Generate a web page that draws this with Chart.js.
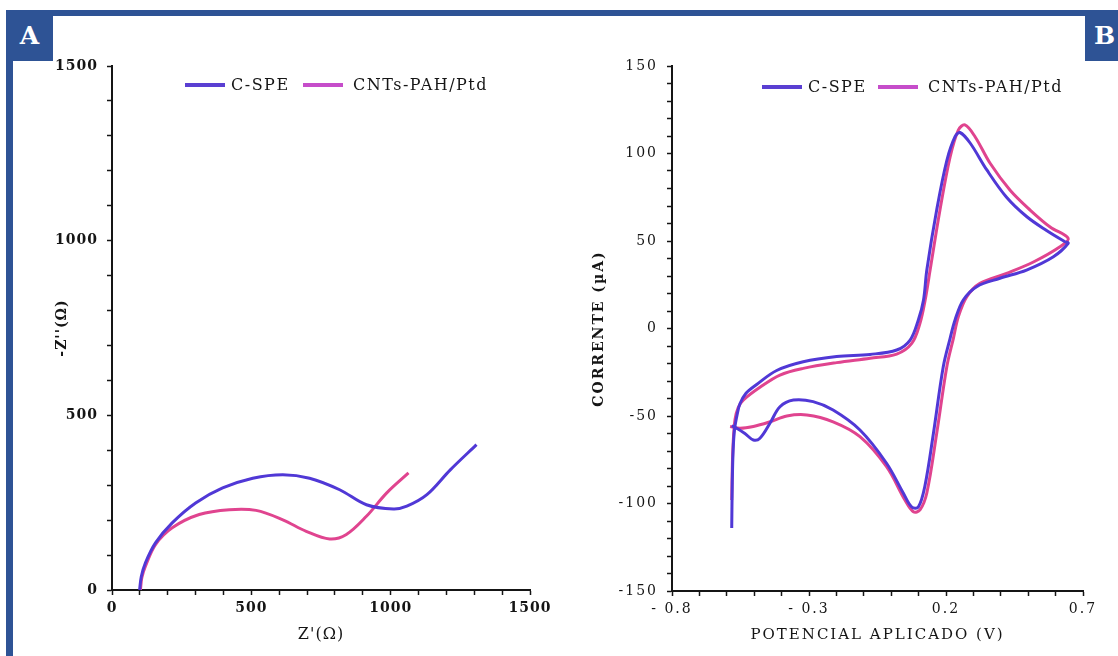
<!DOCTYPE html>
<html>
<head>
<meta charset="utf-8">
<script src="https://cdn.jsdelivr.net/npm/chart.js@4.4.0/dist/chart.umd.min.js"></script>
<style>
  body { margin: 0; background: #fff; width: 1118px; height: 656px; overflow: hidden; position: relative; font-family: "DejaVu Serif", serif; }
  .bar { position: absolute; background: #2e5395; }
  .tag { position: absolute; top: 10px; width: 47px; height: 51px; background: #2e5395; color: #fff; font: bold 25px "DejaVu Serif", serif; text-align: center; line-height: 51px; }
  canvas { position: absolute; top: 0; }
  .lg-line { position: absolute; height: 4px; }
  .lg-text { position: absolute; font-size: 16px; letter-spacing: 1.5px; color: #161616; line-height: 20px; white-space: nowrap; }
</style>
</head>
<body>
<div class="bar" style="left:6px; top:10px; width:1112px; height:6px;"></div>
<div class="bar" style="left:6px; top:10px; width:7px; height:646px;"></div>
<div class="tag" style="left:6px;">A</div>
<div class="tag" style="left:1085px; text-align:left; padding-left:9px;">B</div>

<canvas id="chartA" width="560" height="656" style="left:0;"></canvas>
<canvas id="chartB" width="558" height="656" style="left:560px;"></canvas>
<div id="legends"></div>

<script>
// series names
const seriesNames = ["C-SPE", "CNTs-PAH/Ptd"];

// A: Nyquist plot, Z' and -Z'' in ohm
const nyqReCSPE = [99, 105, 120, 156, 216, 300, 397, 505, 613, 709, 817, 913, 1010, 1058, 1130, 1214, 1308];
const nyqImCSPE = [0, 38, 78, 135, 192, 249, 292, 320, 330, 320, 287, 244, 232, 240, 273, 344, 416];
const nyqReCNT = [102, 107, 120, 156, 216, 313, 421, 517, 613, 697, 781, 841, 913, 986, 1064];
const nyqImCNT = [0, 35, 68, 130, 178, 216, 230, 228, 201, 168, 146, 159, 211, 278, 335];

// B: cyclic voltammetry, potential (V) and current (uA)
const cvPotCSPE = [-0.582, -0.580, -0.577, -0.572, -0.562, -0.552, -0.530, -0.491, -0.418, -0.321, -0.199, -0.077, 0.020, 0.069, 0.099, 0.118, 0.130, 0.166, 0.203, 0.233, 0.251, 0.288, 0.349, 0.421, 0.494, 0.567, 0.634, 0.646,
  0.592, 0.494, 0.397, 0.312, 0.263, 0.233, 0.215, 0.190, 0.154, 0.123, 0.099, 0.075, 0.044, -0.017, -0.114, -0.212, -0.285, -0.357, -0.406, -0.442, -0.479, -0.503, -0.534, -0.564, -0.582];
const cvCurCSPE = [-114, -88, -70, -58, -49, -43, -37, -32, -24, -19, -16, -14.8, -12.3, -6.6, 4.9, 16.3, 33.4, 67.7, 96, 109.6, 112, 106, 90.6, 75, 64, 56, 49.6, 48.7,
  41, 33.4, 28.7, 23.9, 16.3, 4.9, -5.6, -21.8, -60, -90, -102, -102, -94, -77, -58, -46.6, -41.8, -40.9, -44.7, -54, -62.7, -63.7, -60, -57, -55.7];
const cvPotCNT = [-0.582, -0.580, -0.577, -0.570, -0.558, -0.540, -0.479, -0.406, -0.321, -0.199, -0.077, 0.020, 0.075, 0.105, 0.124, 0.142, 0.178, 0.215, 0.245, 0.269, 0.306, 0.361, 0.434, 0.507, 0.580, 0.646,
  0.616, 0.519, 0.421, 0.324, 0.276, 0.245, 0.227, 0.203, 0.166, 0.130, 0.105, 0.081, 0.050, -0.017, -0.114, -0.212, -0.308, -0.381, -0.442, -0.503, -0.552, -0.588];
const cvCurCNT = [-98, -80, -66, -52, -45, -40.9, -33.6, -26.6, -22.8, -19.5, -17, -14.6, -8.5, 3, 16.3, 33.4, 67.7, 98, 113.4, 116.3, 109.6, 94.4, 79, 67.7, 58, 51.5,
  46.7, 38, 31.5, 25.8, 18.2, 6.7, -5.6, -21.8, -60, -94, -103.7, -104.7, -98, -79, -61.8, -53.3, -49.4, -50, -53.3, -56, -57, -56];

// tick labels
const xTicksA = ["0", "500", "1000", "1500"];
const yTicksA = ["0", "500", "1000", "1500"];
const xTicksB = ["- 0.8", "- 0.3", "0.2", "0.7"];
const yTicksB = ["-150", "-100", "-50", "0", "50", "100", "150"];

const lineColors = ["#5038d6", "#e0448f"];
const legendColors = ["#5a3fd2", "#c64dca"];
const ink = "#151515";
const serif = "'DejaVu Serif', serif";

const zip = (xs, ys) => xs.map((x, i) => ({ x: x, y: ys[i] }));

// canvas letter spacing, the picture's type is quite wide
const spacing = {
  id: "spacing",
  beforeUpdate(chart, args, opts) { chart.ctx.letterSpacing = opts.px + "px"; },
  beforeDraw(chart, args, opts) { chart.ctx.letterSpacing = opts.px + "px"; }
};

function makeDataset(i, xs, ys) {
  return {
    label: seriesNames[i], data: zip(xs, ys), showLine: true,
    borderColor: lineColors[i], backgroundColor: lineColors[i],
    borderWidth: 3, pointRadius: 0, tension: 0.35, fill: false
  };
}

function axis(opts) {
  return {
    type: "linear", min: opts.min, max: opts.max,
    afterFit: opts.fit,
    ticks: {
      stepSize: opts.step, autoSkip: false, maxRotation: 0, padding: opts.pad, color: ink,
      font: { family: serif, size: 14, weight: opts.bold ? "bold" : "normal" },
      callback: (v, i) => (i % 5 === 0 ? opts.labels[i / 5] : "")
    },
    grid: { display: true, drawOnChartArea: false, tickLength: 5, tickColor: ink, tickWidth: 1.5 },
    border: { display: true, color: ink, width: 2 },
    title: { display: true, text: opts.title, color: ink, padding: 0, font: { family: serif, size: opts.tsize, weight: opts.tbold ? "bold" : "normal" } }
  };
}

new Chart(document.getElementById("chartA"), {
  type: "scatter",
  data: { datasets: [makeDataset(0, nyqReCSPE, nyqImCSPE), makeDataset(1, nyqReCNT, nyqImCNT)] },
  options: {
    responsive: false, animation: false,
    layout: { padding: { left: 54, top: 66, right: 30, bottom: 12 } },
    plugins: { legend: { display: false }, tooltip: { enabled: false }, spacing: { px: 1 } },
    scales: {
      x: axis({ min: 0, max: 1500, step: 100, labels: xTicksA, pad: 5, bold: true, title: "Z'(Ω)", tsize: 16, fit: s => { s.height = 54; } }),
      y: axis({ min: 0, max: 1500, step: 100, labels: yTicksA, pad: 9, bold: true, title: "-Z''(Ω)", tsize: 14, tbold: true, fit: s => { s.width = 58; } })
    }
  },
  plugins: [spacing]
});

new Chart(document.getElementById("chartB"), {
  type: "scatter",
  data: { datasets: [makeDataset(0, cvPotCSPE, cvCurCSPE), makeDataset(1, cvPotCNT, cvCurCNT)] },
  options: {
    responsive: false, animation: false,
    layout: { padding: { left: 31, top: 66, right: 35, bottom: 12 } },
    plugins: { legend: { display: false }, tooltip: { enabled: false }, spacing: { px: 2 } },
    scales: {
      x: axis({ min: -0.8, max: 0.7, step: 0.1, labels: xTicksB, pad: 5, title: "POTENCIAL APLICADO (V)", tsize: 15, fit: s => { s.height = 53; } }),
      y: axis({ min: -150, max: 150, step: 10, labels: yTicksB, pad: 9, title: "CORRENTE (µA)", tsize: 14, tbold: true, fit: s => { s.width = 81; } })
    }
  },
  plugins: [spacing]
});

// HTML legends placed over each plot
const legendSpots = [
  { y: 85, items: [[185, 231], [303, 353]] },
  { y: 87, items: [[762, 808], [878, 928]] }
];
const holder = document.getElementById("legends");
legendSpots.forEach(spot => {
  spot.items.forEach((pos, i) => {
    const line = document.createElement("div");
    line.className = "lg-line";
    line.style.cssText = `left:${pos[0]}px; top:${spot.y - 2}px; width:40px; background:${legendColors[i]};`;
    const txt = document.createElement("div");
    txt.className = "lg-text";
    txt.style.cssText = `left:${pos[1]}px; top:${spot.y - 10}px;`;
    txt.innerText = seriesNames[i];
    holder.appendChild(line);
    holder.appendChild(txt);
  });
});
</script>
</body>
</html>
